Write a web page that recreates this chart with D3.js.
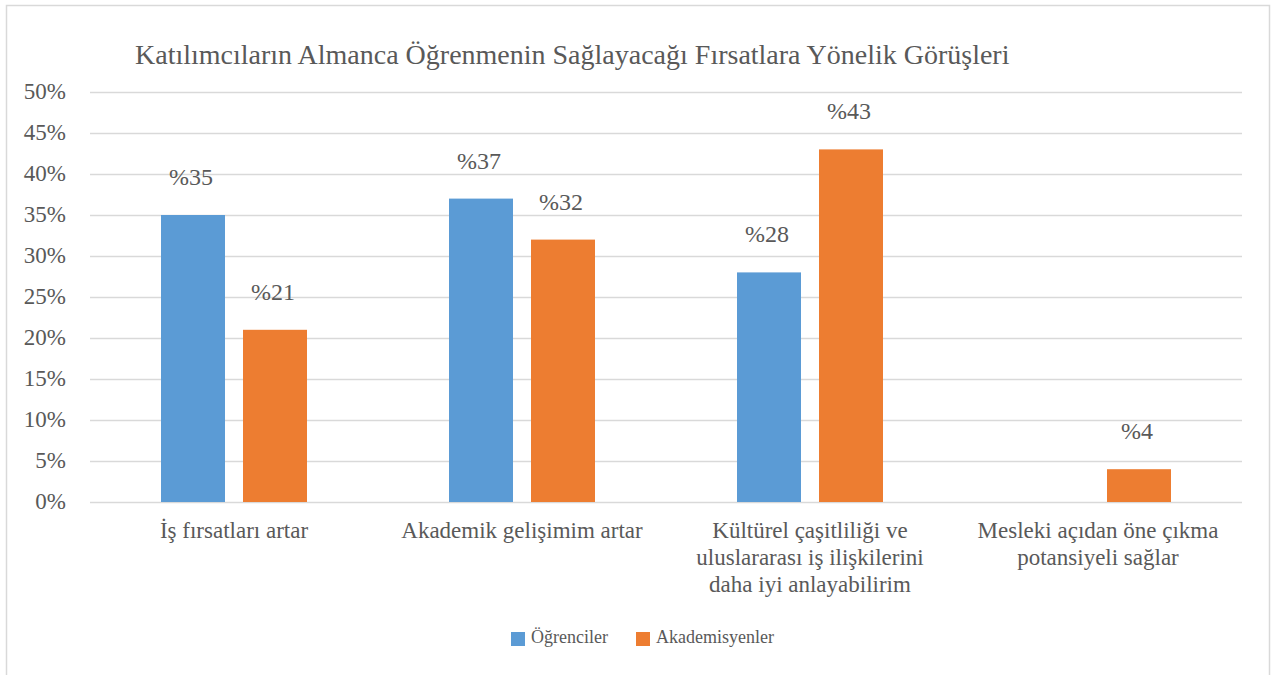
<!DOCTYPE html>
<html>
<head>
<meta charset="utf-8">
<script src="https://cdn.jsdelivr.net/npm/d3@7"></script>
<style>
  body { margin: 0; background: #fff; }
  svg text { font-family: "Liberation Serif", "Times New Roman", serif; fill: #595959; }
</style>
</head>
<body>
<div id="chart"></div>
<script>
var title = "Katılımcıların Almanca Öğrenmenin Sağlayacağı Fırsatlara Yönelik Görüşleri";
var categories = [
  ["İş fırsatları artar"],
  ["Akademik gelişimim artar"],
  ["Kültürel çaşitliliği ve", "uluslararası iş ilişkilerini", "daha iyi anlayabilirim"],
  ["Mesleki açıdan öne çıkma", "potansiyeli sağlar"]
];
var seriesNames = ["Öğrenciler", "Akademisyenler"];
var ogrenciler = [35, 37, 28, null];
var akademisyenler = [21, 32, 43, 4];
var yTicks = [0, 5, 10, 15, 20, 25, 30, 35, 40, 45, 50];
var colors = ["#5B9BD5", "#ED7D31"];

var width = 1271, height = 675;
var margin = {left: 90, right: 29, top: 92, bottom: 173};

var svg = d3.select("#chart").append("svg")
    .attr("width", width).attr("height", height);

svg.append("rect")
    .attr("x", 6.5).attr("y", 5.5)
    .attr("width", 1263).attr("height", 680)
    .attr("fill", "#fff").attr("stroke", "#d9d9d9").attr("stroke-width", 1.5);

svg.append("text")
    .attr("x", 135).attr("y", 64)
    .style("font-size", "28px")
    .text(title);

var x = d3.scaleBand()
    .domain(d3.range(categories.length))
    .range([margin.left, width - margin.right]);

// bar 64, gap 18, outer 71 (Excel gap width ~110%, overlap -27%)
var x1 = d3.scaleBand()
    .domain([0, 1])
    .range([0, x.bandwidth()])
    .paddingInner(18 / 82)
    .paddingOuter(71 / 82);

var y = d3.scaleLinear()
    .domain([0, 50])
    .range([height - margin.bottom, margin.top]);

// gridlines
svg.append("g").selectAll("line")
    .data(yTicks).enter()
    .append("line")
    .attr("x1", margin.left).attr("x2", width - margin.right)
    .attr("y1", function(d){ return Math.round(y(d)) + 0.5; })
    .attr("y2", function(d){ return Math.round(y(d)) + 0.5; })
    .attr("stroke", "#d9d9d9").attr("stroke-width", 1.5);

// y axis labels
svg.append("g").selectAll("text")
    .data(yTicks).enter()
    .append("text")
    .attr("x", 66)
    .attr("y", function(d){ return y(d) + 7; })
    .attr("text-anchor", "end")
    .style("font-size", "23px")
    .text(function(d){ return d + "%"; });

var series = [ogrenciler, akademisyenler];

series.forEach(function(vals, s) {
  var g = svg.append("g");
  var data = vals.map(function(v, i){ return {i: i, v: v}; })
      .filter(function(d){ return d.v !== null; });

  g.selectAll("rect")
      .data(data).enter()
      .append("rect")
      .attr("x", function(d){ return x(d.i) + x1(s); })
      .attr("width", x1.bandwidth())
      .attr("y", function(d){ return y(d.v); })
      .attr("height", function(d){ return y(0) - y(d.v); })
      .attr("fill", colors[s]);

  g.selectAll("text")
      .data(data).enter()
      .append("text")
      .attr("x", function(d){ return x(d.i) + x1(s) + x1.bandwidth() / 2 - 2; })
      .attr("y", function(d){ return y(d.v) - 30; })
      .attr("text-anchor", "middle")
      .style("font-size", "24px")
      .text(function(d){ return "%" + d.v; });
});

// category labels
var cat = svg.append("g").selectAll("text")
    .data(categories).enter()
    .append("text")
    .attr("text-anchor", "middle")
    .style("font-size", "23px");

cat.selectAll("tspan")
    .data(function(d, i){ return d.map(function(t){ return {t: t, i: i}; }); })
    .enter().append("tspan")
    .attr("x", function(d){ return x(d.i) + x.bandwidth() / 2; })
    .attr("y", function(d, j){ return 538 + j * 27; })
    .text(function(d){ return d.t; });

// legend
var legendX = [511, 636];
var leg = svg.append("g").selectAll("g")
    .data(seriesNames).enter()
    .append("g")
    .attr("transform", function(d, i){ return "translate(" + legendX[i] + ",632)"; });

leg.append("rect")
    .attr("width", 14).attr("height", 14)
    .attr("fill", function(d, i){ return colors[i]; });

leg.append("text")
    .attr("x", 20).attr("y", 11)
    .style("font-size", "18px")
    .text(function(d){ return d; });
</script>
</body>
</html>
